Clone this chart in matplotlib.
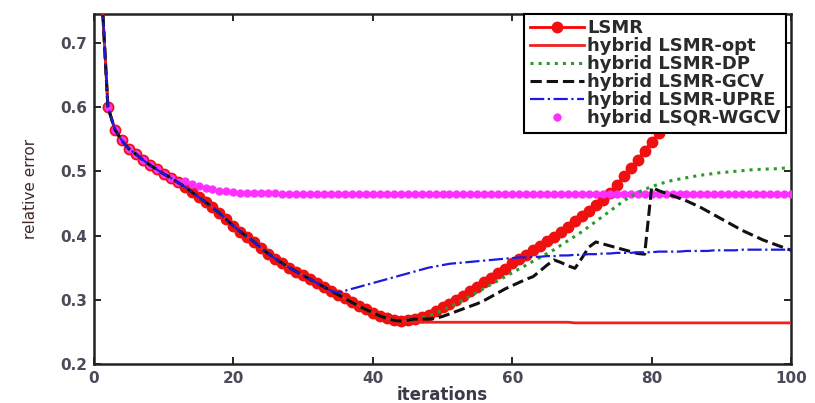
import matplotlib
matplotlib.use("Agg")
import matplotlib.pyplot as plt

plt.rcParams['font.family'] = ['DejaVu Sans']

# -----------------------------------
# Data
# -----------------------------------

iters = list(range(1, 101))

lsmr = [0.80, 0.600, 0.565, 0.548, 0.535, 0.527, 0.518, 0.510, 0.503, 0.496,
        0.490, 0.483, 0.476, 0.468, 0.460, 0.452, 0.444, 0.435, 0.425, 0.415,
        0.406, 0.398, 0.390, 0.380, 0.372, 0.364, 0.357, 0.350, 0.344, 0.338,
        0.332, 0.326, 0.320, 0.314, 0.308, 0.302, 0.296, 0.290, 0.285, 0.280,
        0.275, 0.271, 0.268, 0.267, 0.268, 0.270, 0.273, 0.277, 0.282, 0.288,
        0.294, 0.300, 0.306, 0.313, 0.320, 0.327, 0.334, 0.341, 0.348, 0.357,
        0.364, 0.370, 0.377, 0.384, 0.391, 0.398, 0.406, 0.414, 0.422, 0.430,
        0.438, 0.447, 0.456, 0.467, 0.479, 0.492, 0.505, 0.518, 0.532, 0.546,
        0.559, 0.572, 0.585, 0.597, 0.609, 0.621, 0.633, 0.645, 0.657, 0.669,
        0.681, 0.693, 0.705, 0.717, 0.729, 0.741, 0.753, 0.765, 0.777, 0.789]

# tails after each hybrid method leaves the LSMR curve
opt_tail = [0.266, 0.265, 0.265, 0.265, 0.265, 0.265, 0.265, 0.265, 0.265, 0.265,
            0.265, 0.265, 0.265, 0.265, 0.265, 0.265, 0.265, 0.265, 0.265, 0.265,
            0.265, 0.265, 0.265, 0.265, 0.264, 0.264, 0.264, 0.264, 0.264, 0.264,
            0.264, 0.264, 0.264, 0.264, 0.264, 0.264, 0.264, 0.264, 0.264, 0.264,
            0.264, 0.264, 0.264, 0.264, 0.264, 0.264, 0.264, 0.264, 0.264, 0.264,
            0.264, 0.264, 0.264, 0.264, 0.264, 0.264]

# iterations 47..100
dp_tail = [0.272, 0.275, 0.279, 0.284, 0.289, 0.294, 0.300, 0.306, 0.312, 0.318,
           0.324, 0.330, 0.336, 0.342, 0.348, 0.354, 0.360, 0.366, 0.372, 0.378,
           0.385, 0.392, 0.399, 0.406, 0.414, 0.422, 0.430, 0.438, 0.446, 0.454,
           0.461, 0.467, 0.472, 0.476, 0.480, 0.483, 0.486, 0.488, 0.490, 0.492,
           0.494, 0.495, 0.497, 0.498, 0.499, 0.500, 0.501, 0.502, 0.503, 0.503,
           0.504, 0.504, 0.505, 0.505]

# iterations 46..100
gcv_tail = [0.270, 0.270, 0.270, 0.271, 0.274, 0.278, 0.282, 0.286, 0.290, 0.294,
            0.299, 0.305, 0.311, 0.317, 0.322, 0.327, 0.332, 0.336, 0.345, 0.354,
            0.362, 0.358, 0.353, 0.349, 0.365, 0.382, 0.390, 0.387, 0.384, 0.381,
            0.378, 0.375, 0.372, 0.371, 0.475, 0.470, 0.466, 0.462, 0.458, 0.454,
            0.449, 0.444, 0.438, 0.432, 0.426, 0.420, 0.414, 0.408, 0.403, 0.398,
            0.393, 0.389, 0.385, 0.381, 0.377]

# iterations 35..100
upre_tail = [0.311, 0.314, 0.317, 0.320, 0.323, 0.326, 0.329, 0.332, 0.335, 0.338,
             0.341, 0.344, 0.347, 0.350, 0.352, 0.354, 0.356, 0.357, 0.358, 0.359,
             0.360, 0.361, 0.362, 0.363, 0.364, 0.365, 0.366, 0.366, 0.367, 0.367,
             0.368, 0.368, 0.369, 0.369, 0.370, 0.370, 0.371, 0.371, 0.372, 0.372,
             0.373, 0.373, 0.373, 0.374, 0.374, 0.374, 0.375, 0.375, 0.375, 0.375,
             0.376, 0.376, 0.376, 0.376, 0.377, 0.377, 0.377, 0.377, 0.378, 0.378,
             0.378, 0.378, 0.378, 0.378, 0.378, 0.378]

# iterations 13..100
wgcv_tail = [0.485, 0.480, 0.477, 0.474, 0.472, 0.470, 0.469, 0.468, 0.467, 0.467,
             0.466, 0.466, 0.466, 0.466, 0.465, 0.465, 0.465, 0.465, 0.465, 0.465,
             0.465, 0.465, 0.465, 0.465, 0.465, 0.465, 0.465, 0.465, 0.465, 0.465,
             0.465, 0.465, 0.465, 0.465, 0.465, 0.465, 0.465, 0.465, 0.465, 0.465,
             0.465, 0.465, 0.465, 0.465, 0.465, 0.465, 0.465, 0.465, 0.465, 0.465,
             0.465, 0.465, 0.465, 0.465, 0.465, 0.465, 0.465, 0.465, 0.465, 0.465,
             0.465, 0.465, 0.465, 0.465, 0.465, 0.465, 0.465, 0.465, 0.465, 0.465,
             0.465, 0.465, 0.465, 0.465, 0.465, 0.465, 0.465, 0.465, 0.465, 0.465,
             0.465, 0.465, 0.465, 0.465, 0.465, 0.465, 0.465, 0.465]

opt = lsmr[:44] + opt_tail
dp = lsmr[:46] + dp_tail
gcv = lsmr[:45] + gcv_tail
upre = lsmr[:34] + upre_tail
wgcv = lsmr[:12] + wgcv_tail

labels = ["LSMR", "hybrid LSMR-opt", "hybrid LSMR-DP", "hybrid LSMR-GCV",
          "hybrid LSMR-UPRE", "hybrid LSQR-WGCV"]

# -----------------------------------
# Plot
# -----------------------------------

fig = plt.figure(figsize=(8.15, 4.03), dpi=100)
ax = fig.add_axes([0.1153, 0.0968, 0.8553, 0.8685])

ax.plot(iters, lsmr, '-o', color='red', lw=2, ms=7.5, mfc='#f01010', mec='#f01010',
        label=labels[0], zorder=2)
ax.plot(iters, opt, '-', color='#f02020', lw=2, label=labels[1], zorder=3)
ax.plot(iters, dp, ':', color='#2a9a2a', lw=2.2, label=labels[2], zorder=4)
ax.plot(iters, gcv, '--', color='#111111', lw=2.2, label=labels[3], zorder=5)
ax.plot(iters, upre, '-.', color='#1a1ae0', lw=1.6, label=labels[4], zorder=6)
ax.plot(iters, wgcv, '.', color='#ff30ff', ms=10, label=labels[5], zorder=3.5)

ax.set_xlim(0, 100)
ax.set_ylim(0.2, 0.745)
ax.set_xticks([0, 20, 40, 60, 80, 100])
ax.set_yticks([0.2, 0.3, 0.4, 0.5, 0.6, 0.7])
ax.set_yticklabels(["0.2", "0.3", "0.4", "0.5", "0.6", "0.7"])
ax.tick_params(direction='in', top=True, right=True, length=5, width=1.2,
               labelsize=11, labelcolor='#4a4a58', pad=5)
for lab in ax.get_xticklabels() + ax.get_yticklabels():
    lab.set_fontweight('bold')
for s in ax.spines.values():
    s.set_linewidth(1.8)
    s.set_color('#222222')

ax.set_xlabel("iterations", fontsize=12, fontweight='bold', color='#3a3a48',
              labelpad=0)
ax.set_ylabel("relative error", fontsize=11, color='#402828', labelpad=16)

leg = ax.legend(loc='upper right', bbox_to_anchor=(0.993, 1.0),
                prop={'size': 13, 'weight': 'bold'},
                frameon=True, fancybox=False, edgecolor='black', framealpha=1,
                borderpad=0.3, labelspacing=0.0, handlelength=3.0,
                handletextpad=0.2, borderaxespad=0)
leg.get_frame().set_linewidth(1.5)
for t in leg.get_texts():
    t.set_color('#2a2a2a')
leg.set_zorder(10)

plt.savefig("out.png", dpi=100)
